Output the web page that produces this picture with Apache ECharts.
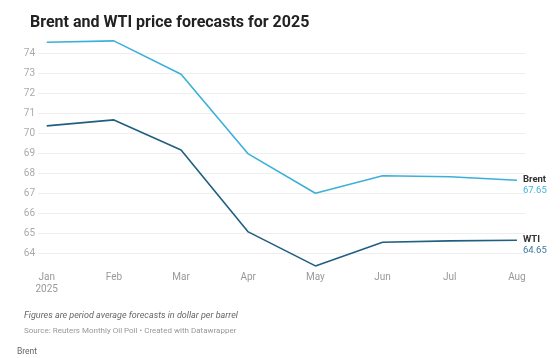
<!DOCTYPE html>
<html>
<head>
<meta charset="utf-8">
<script src="https://cdn.jsdelivr.net/npm/echarts@6/dist/echarts.min.js"></script>
<style>
html,body{margin:0;padding:0;background:#fff;}
#c{width:560px;height:358px;}
</style>
</head>
<body>
<div id="c"></div>
<script>
const months = ['Jan','Feb','Mar','Apr','May','Jun','Jul','Aug'];
const brent = [74.55, 74.62, 72.95, 68.97, 67.0, 67.88, 67.83, 67.65];
const wti = [70.37, 70.67, 69.17, 65.07, 63.37, 64.55, 64.62, 64.65];
const yTicks = [64, 65, 66, 67, 68, 69, 70, 71, 72, 73, 74];

const BRENT_C = '#3cb0d9';
const WTI_C = '#1f5f80';

const chart = echarts.init(document.getElementById('c'), null, {renderer: 'canvas'});
const gridColors = ['rgba(0,0,0,0)'].concat(yTicks.map(() => '#eeeeee')).concat(['rgba(0,0,0,0)']);

function toPts(arr){ return arr.map((v,i)=>[i,v]); }

chart.setOption({
  animation: false,
  backgroundColor: '#fff',
  textStyle: {fontFamily: 'Roboto'},
  title: [
    {text: 'Brent and WTI price forecasts for 2025', left: 25, top: 10,
     textStyle: {fontFamily: 'Roboto', fontWeight: 'bold', fontSize: 16, color: '#222'}},
    {text: 'Figures are period average forecasts in dollar per barrel', left: 24, top: 311, padding: 0,
     textStyle: {fontFamily: 'Roboto', fontStyle: 'italic', fontWeight: 'normal', fontSize: 9, color: '#666'}},
    {text: 'Source: Reuters Monthly Oil Poll • Created with Datawrapper', left: 24, top: 326.5, padding: 0,
     textStyle: {fontFamily: 'Roboto', fontWeight: 'normal', fontSize: 8, color: '#999'}},
    {text: 'Brent', left: 17, top: 347, padding: 0,
     textStyle: {fontFamily: 'Roboto', fontWeight: 'normal', fontSize: 8.5, color: '#666'}}
  ],
  grid: {left: 38, right: 35, top: 33.3, bottom: 84.7, containLabel: false},
  xAxis: {
    type: 'value', min: -0.13, max: 7.12,
    axisLine: {show: false}, axisTick: {show: false}, splitLine: {show: false},
    axisLabel: {
      customValues: months.map((m,i)=>i),
      formatter: v => (v === 0 ? 'Jan\n2025' : months[Math.round(v)]),
      color: '#999', fontSize: 10, lineHeight: 12, margin: -2,
      verticalAlign: 'top'
    }
  },
  yAxis: {
    type: 'value', min: 63, max: 75, interval: 1,
    axisLine: {show: false}, axisTick: {show: false},
    splitLine: {show: true, lineStyle: {color: gridColors, width: 1}},
    axisLabel: {
      color: '#aaa', fontSize: 10, margin: 3,
      formatter: v => (yTicks.indexOf(v) >= 0 ? String(v) : '')
    }
  },
  series: [
    {
      name: 'Brent', type: 'line', data: toPts(brent), symbol: 'none',
      lineStyle: {color: BRENT_C, width: 1.6}, itemStyle: {color: BRENT_C},
      endLabel: {
        show: true, distance: 6, offset: [0, 5],
        formatter: p => '{n|Brent}\n{v|' + brent[brent.length-1].toFixed(2) + '}',
        rich: {
          n: {fontFamily: 'Roboto', fontWeight: 'bold', fontSize: 9.5, color: '#333', lineHeight: 11},
          v: {fontFamily: 'Roboto', fontSize: 9.5, color: '#45b2da', lineHeight: 11}
        }
      }
    },
    {
      name: 'WTI', type: 'line', data: toPts(wti), symbol: 'none',
      lineStyle: {color: WTI_C, width: 1.6}, itemStyle: {color: WTI_C},
      endLabel: {
        show: true, distance: 6, offset: [0, 5],
        formatter: p => '{n|WTI}\n{v|' + wti[wti.length-1].toFixed(2) + '}',
        rich: {
          n: {fontFamily: 'Roboto', fontWeight: 'bold', fontSize: 9.5, color: '#333', lineHeight: 11},
          v: {fontFamily: 'Roboto', fontSize: 9.5, color: '#3d7a9e', lineHeight: 11}
        }
      }
    }
  ]
});
</script>
</body>
</html>
